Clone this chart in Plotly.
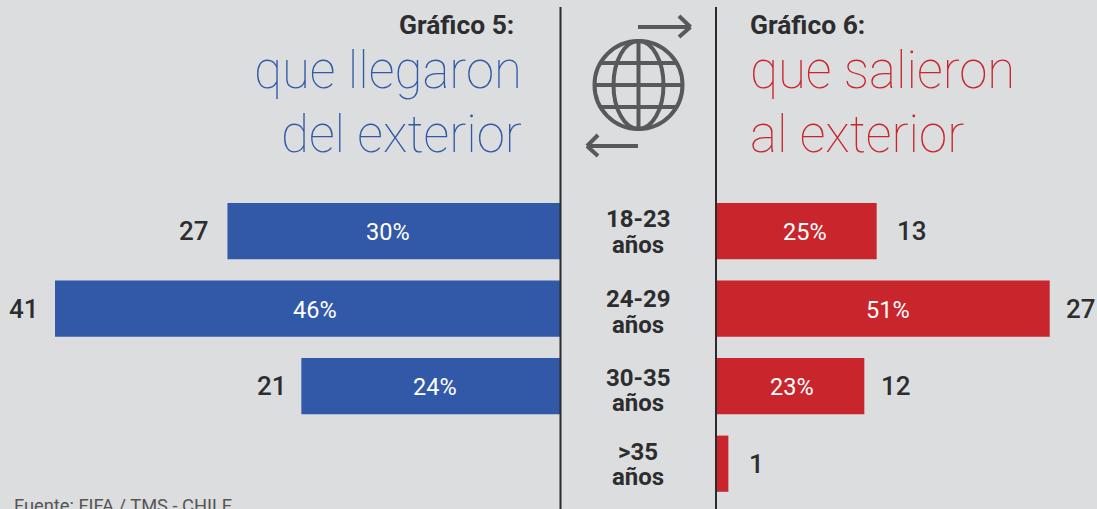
import plotly.graph_objects as go

categories = ["18-23<br>años", "24-29<br>años", "30-35<br>años", ">35<br>años"]
llegaron = [27, 41, 21, None]
llegaron_pct = ["30%", "46%", "24%", ""]
salieron = [13, 27, 12, 1]
salieron_pct = ["25%", "51%", "23%", ""]

W, H = 1097, 509
BG = "#dcddde"
BLUE = "#3159a8"
RED = "#c8252c"
DARK = "#2b2b2e"
ICON = "#58595b"
TEXT = "#2d2d2f"
FONT = "Roboto"

def px(x):
    return x / W

def py(y):
    return 1 - y / H

fig = go.Figure()
ypos = list(range(len(categories)))
fig.add_trace(go.Bar(x=llegaron, y=ypos, orientation="h", xaxis="x", yaxis="y",
                     marker=dict(color=BLUE, line=dict(width=0)), width=0.725, hoverinfo="skip"))
fig.add_trace(go.Bar(x=salieron, y=ypos, orientation="h", xaxis="x2", yaxis="y",
                     marker=dict(color=RED, line=dict(width=0)), width=0.725, hoverinfo="skip"))

ann = []
def label(x, y, text, size, color, anchor="center", weight=400, xref="paper", yref="paper", xshift=0, yshift=0, family=FONT):
    ann.append(dict(x=x, y=y, xref=xref, yref=yref, text=text, showarrow=False, xanchor=anchor,
                    yanchor="middle", xshift=xshift, yshift=yshift, align=anchor,
                    font=dict(family=family, size=size, color=color, weight=weight)))

# label offsets in pixels, one for each bar
left_gap = [-16, -14, -12, 0]
right_gap = [18, 14, 15, 19]
left_pct_off = [-6, 7, 4, 0]
right_pct_off = [9, 5, 2, 0]

for i, v in enumerate(llegaron):
    if v is not None:
        label(v, i, str(v), 26, TEXT, "right", 500, "x", "y", left_gap[i])
        label(v / 2, i, llegaron_pct[i], 23.5, "white", "center", 400, "x", "y", left_pct_off[i], -1)
for i, v in enumerate(salieron):
    label(v, i, str(v), 26, TEXT, "left", 500, "x2", "y", right_gap[i])
    if salieron_pct[i]:
        label(v / 2, i, salieron_pct[i], 23.5, "white", "center", 400, "x2", "y", right_pct_off[i], -1)
for (y1, y2), c in zip([(219, 245), (299, 325), (378, 403), (452, 477)], categories):
    top, bottom = c.split("<br>")
    label(px(638), py(y1), top, 24, TEXT, "center", 700)
    label(px(638), py(y2), bottom, 24, TEXT, "center", 700)

THIN = "Roboto Thin, Roboto"
label(px(516), py(25), "Gráfico 5:", 26.4, TEXT, "right", 700)
label(px(524), py(71), "que llegaron", 51, BLUE, "right", 100, family=THIN)
label(px(524), py(134), "del exterior", 51, BLUE, "right", 100, family=THIN)
label(px(748), py(25), "Gráfico 6:", 26.4, TEXT, "left", 700)
label(px(748), py(71), "que salieron", 51, RED, "left", 100, family=THIN)
label(px(748), py(134), "al exterior", 51, RED, "left", 100, family=THIN)
label(px(12), py(505), "Fuente: FIFA / TMS - CHILE", 18.3, "#555555", "left", 400)

shapes = []
def line(x0, y0, x1, y1, color=ICON, width=4):
    shapes.append(dict(type="line", xref="paper", yref="paper", x0=px(x0), y0=py(y0), x1=px(x1), y1=py(y1),
                       line=dict(color=color, width=width)))
def ellipse(cx, cy, rx, ry):
    shapes.append(dict(type="circle", xref="paper", yref="paper", x0=px(cx-rx), y0=py(cy-ry),
                       x1=px(cx+rx), y1=py(cy+ry), line=dict(color=ICON, width=4)))

line(560.5, 7, 560.5, 509, DARK, 2)
line(716, 7, 716, 509, DARK, 2)
ellipse(638.5, 85, 44, 44)
ellipse(638.5, 85, 25, 44)
line(638.5, 41, 638.5, 129)
line(595, 85, 682, 85)
line(601, 63, 676, 63)
line(601, 107, 676, 107)
line(638, 27, 690, 27)
line(679, 16, 690.5, 27)
line(690.5, 27, 679, 37)
line(638, 146, 588, 146)
line(598, 135, 587, 146)
line(587, 146, 598, 156)

sx = 505 / 41
sx2 = 12.36
step = 77.5
base = 231.2
fig.update_layout(
    width=W, height=H, margin=dict(l=0, r=0, t=0, b=0),
    paper_bgcolor=BG, plot_bgcolor=BG, showlegend=False, barmode="overlay",
    xaxis=dict(domain=[0, 560 / W], range=[560 / sx, 0], visible=False, fixedrange=True),
    xaxis2=dict(domain=[716 / W, 1], range=[0, (W - 716) / sx2], visible=False, fixedrange=True),
    yaxis=dict(domain=[0, 1], range=[(509 - base) / step, -base / step], visible=False, fixedrange=True),
    annotations=ann, shapes=shapes,
)
fig.write_html("out.html", config=dict(displayModeBar=False),
               post_script="document.body.style.margin='0';document.body.style.background='#dcddde';document.body.style.overflow='hidden';")
